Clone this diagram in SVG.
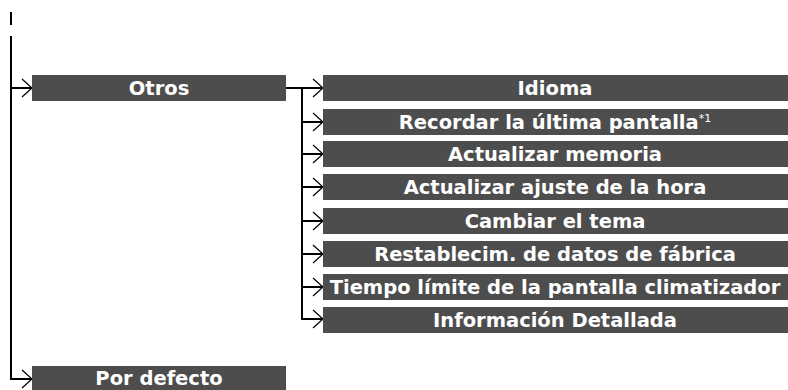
<svg xmlns="http://www.w3.org/2000/svg" width="788" height="390" viewBox="0 0 788 390">
<style>
.box{fill:#4d4d4d}
.t{font-family:"DejaVu Sans","Open Sans",sans-serif;font-weight:700;font-size:19.5px;fill:#fff;text-anchor:middle}
.sup{font-weight:400;font-size:11px}
.ln{stroke:#000;stroke-width:2;fill:none}
.ah{stroke:#000;stroke-width:1.2;fill:none}
</style>
<rect width="788" height="390" fill="#fff"/>
<g id="connectors">
<line class="ln" x1="11" y1="12" x2="11" y2="25"/>
<polyline class="ln" points="11,36 11,379 31,379"/>
<line class="ln" x1="11" y1="88" x2="31" y2="88"/>
<line class="ln" x1="286" y1="88" x2="322" y2="88"/>
<line class="ln" x1="302" y1="88" x2="302" y2="320"/>
<line class="ln" x1="302" y1="122" x2="322" y2="122"/>
<line class="ln" x1="302" y1="154" x2="322" y2="154"/>
<line class="ln" x1="302" y1="187" x2="322" y2="187"/>
<line class="ln" x1="302" y1="221" x2="322" y2="221"/>
<line class="ln" x1="302" y1="254" x2="322" y2="254"/>
<line class="ln" x1="302" y1="287" x2="322" y2="287"/>
<polyline class="ln" points="302,319 322,319"/>
<g class="ah">
<polyline points="22,79 32,88 22,97"/>
<polyline points="22,370 32,379 22,388"/>
<polyline points="313,79 323,88 313,97"/>
<polyline points="313,113 323,122 313,131"/>
<polyline points="313,145 323,154 313,163"/>
<polyline points="313,178 323,187 313,196"/>
<polyline points="313,212 323,221 313,230"/>
<polyline points="313,245 323,254 313,263"/>
<polyline points="313,278 323,287 313,296"/>
<polyline points="313,310 323,319 313,328"/>
</g>
</g>
<g id="otros"><rect class="box" x="32" y="75" width="254" height="26"/><text class="t" x="159" y="94.5">Otros</text></g>
<g id="idioma"><rect class="box" x="323" y="75" width="465" height="26"/><text class="t" x="555" y="94.5">Idioma</text></g>
<g id="recordar"><rect class="box" x="323" y="109" width="465" height="26"/><text class="t" x="555" y="128.5">Recordar la última pantalla<tspan class="sup" dy="-7">*1</tspan></text></g>
<g id="memoria"><rect class="box" x="323" y="141" width="465" height="26"/><text class="t" x="555" y="160.5">Actualizar memoria</text></g>
<g id="hora"><rect class="box" x="323" y="174" width="465" height="26"/><text class="t" x="555" y="193.5">Actualizar ajuste de la hora</text></g>
<g id="tema"><rect class="box" x="323" y="208" width="465" height="26"/><text class="t" x="555" y="227.5">Cambiar el tema</text></g>
<g id="restablecim"><rect class="box" x="323" y="241" width="465" height="26"/><text class="t" x="555" y="260.5">Restablecim. de datos de fábrica</text></g>
<g id="tiempo"><rect class="box" x="323" y="274" width="465" height="26"/><text class="t" x="555" y="293.5">Tiempo límite de la pantalla climatizador</text></g>
<g id="info"><rect class="box" x="323" y="307" width="465" height="26"/><text class="t" x="555" y="326.5">Información Detallada</text></g>
<g id="defecto"><rect class="box" x="32" y="366" width="254" height="24"/><text class="t" x="159" y="385">Por defecto</text></g>
</svg>
